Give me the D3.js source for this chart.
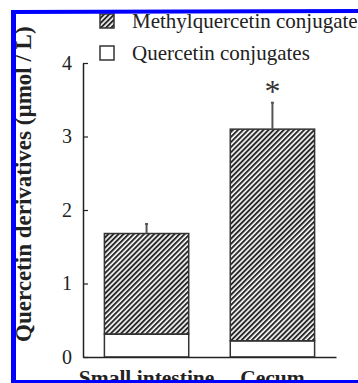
<!DOCTYPE html>
<html>
<head>
<meta charset="utf-8">
<script src="https://cdn.jsdelivr.net/npm/d3@7.9.0/dist/d3.min.js"></script>
<style>
  html, body { margin: 0; padding: 0; background: #fff; }
  svg { display: block; font-family: "Liberation Serif", "Times New Roman", serif; }
</style>
</head>
<body>
<div id="chart"></div>
<script>
const width = 358;
const height = 383;

const categories = ['Small intestine', 'Cecum'];
const quercetin = [0.31, 0.22];
const methylquercetin = [1.37, 2.88];
const errorUp = [0.13, 0.36];
const yTicks = [0, 1, 2, 3, 4];
const legendLabels = ['Methylquercetin conjugate', 'Quercetin conjugates'];

const svg = d3.select('#chart').append('svg')
  .attr('width', width)
  .attr('height', height);

const defs = svg.append('defs');
defs.append('pattern')
  .attr('id', 'hatch')
  .attr('patternUnits', 'userSpaceOnUse')
  .attr('width', 3.6)
  .attr('height', 3.6)
  .attr('patternTransform', 'rotate(45)')
  .append('line')
  .attr('x1', 1).attr('y1', 0)
  .attr('x2', 1).attr('y2', 3.6)
  .attr('stroke', '#2a2a2a')
  .attr('stroke-width', 2);

const y = d3.scaleLinear().domain([0, 4]).range([357, 63]);
const x = d3.scaleBand()
  .domain(categories)
  .range([83, 336])
  .paddingInner(0.33)
  .paddingOuter(0.17);

const rows = categories.map((c, i) => ({
  cat: c,
  q: quercetin[i],
  m: methylquercetin[i],
  err: errorUp[i]
}));

// bars
const bars = svg.append('g').attr('class', 'bars');
bars.selectAll('rect.q')
  .data(rows)
  .enter().append('rect')
  .attr('class', 'q')
  .attr('x', d => x(d.cat))
  .attr('width', x.bandwidth())
  .attr('y', d => y(d.q))
  .attr('height', d => y(0) - y(d.q))
  .attr('fill', '#fff')
  .attr('stroke', '#333')
  .attr('stroke-width', 1.5);

bars.selectAll('rect.m')
  .data(rows)
  .enter().append('rect')
  .attr('class', 'm')
  .attr('x', d => x(d.cat))
  .attr('width', x.bandwidth())
  .attr('y', d => y(d.q + d.m))
  .attr('height', d => y(d.q) - y(d.q + d.m))
  .attr('fill', 'url(#hatch)')
  .attr('stroke', '#333')
  .attr('stroke-width', 1.5);

// error bars (upper only)
const err = svg.append('g').attr('class', 'errors')
  .attr('stroke', '#555')
  .attr('stroke-width', 2);
err.selectAll('line.v')
  .data(rows)
  .enter().append('line')
  .attr('x1', d => x(d.cat) + x.bandwidth() / 2)
  .attr('x2', d => x(d.cat) + x.bandwidth() / 2)
  .attr('y1', d => y(d.q + d.m))
  .attr('y2', d => y(d.q + d.m + d.err));
err.selectAll('line.cap')
  .data(rows)
  .enter().append('line')
  .attr('x1', d => x(d.cat) + x.bandwidth() / 2 - 1.5)
  .attr('x2', d => x(d.cat) + x.bandwidth() / 2 + 1.5)
  .attr('y1', d => y(d.q + d.m + d.err))
  .attr('y2', d => y(d.q + d.m + d.err));

// significance mark
svg.append('text')
  .attr('x', x('Cecum') + x.bandwidth() / 2)
  .attr('y', y(3.46) - 1)
  .attr('text-anchor', 'middle')
  .attr('font-size', 32)
  .attr('fill', '#333')
  .text('*');

// axes
const yAxis = svg.append('g')
  .attr('transform', 'translate(83,0)')
  .call(d3.axisLeft(y).tickValues(yTicks).tickFormat(d3.format('d'))
    .tickSizeInner(-5).tickSizeOuter(0).tickPadding(11));
yAxis.select('.domain').attr('stroke', '#222').attr('stroke-width', 1.5);
yAxis.selectAll('.tick line').attr('stroke', '#222').attr('stroke-width', 1.2);
yAxis.selectAll('.tick text')
  .attr('font-family', '"Liberation Serif", serif')
  .attr('font-size', 20)
  .attr('fill', '#222');

const xAxis = svg.append('g')
  .attr('transform', 'translate(0,357)')
  .call(d3.axisBottom(x).tickSize(0).tickPadding(13));
xAxis.select('.domain').attr('stroke', '#222').attr('stroke-width', 1.5);
xAxis.selectAll('.tick text')
  .attr('font-family', '"Liberation Serif", serif')
  .attr('font-size', 21.5)
  .attr('font-weight', 'bold')
  .attr('fill', '#222');

// y title
svg.append('text')
  .attr('transform', 'translate(31,342) rotate(-90)')
  .attr('font-size', 23)
  .attr('font-weight', 'bold')
  .attr('fill', '#222')
  .text('Quercetin derivatives (\u00b5mol / L)');

// legend
const legend = svg.append('g').attr('class', 'legend');
const legendFills = ['url(#hatch)', '#fff'];
const legendY = [14, 46];
legend.selectAll('rect')
  .data(legendLabels)
  .enter().append('rect')
  .attr('x', 100)
  .attr('y', (d, i) => legendY[i])
  .attr('width', 14)
  .attr('height', 14)
  .attr('fill', (d, i) => legendFills[i])
  .attr('stroke', '#333')
  .attr('stroke-width', 1.5);
legend.selectAll('text')
  .data(legendLabels)
  .enter().append('text')
  .attr('x', 132)
  .attr('y', (d, i) => legendY[i] + 13.5)
  .attr('font-size', 21)
  .attr('fill', '#222')
  .text(d => d);

// blue frame
const frame = svg.append('g').attr('stroke', '#0000ff').attr('fill', 'none');
frame.append('line').attr('x1', 13.5).attr('x2', 13.5).attr('y1', 10).attr('y2', 383).attr('stroke-width', 5);
frame.append('line').attr('x1', 11).attr('x2', 358).attr('y1', 12).attr('y2', 11).attr('stroke-width', 4);
frame.append('line').attr('x1', 11).attr('x2', 358).attr('y1', 381.5).attr('y2', 381.5).attr('stroke-width', 3);
</script>
</body>
</html>
